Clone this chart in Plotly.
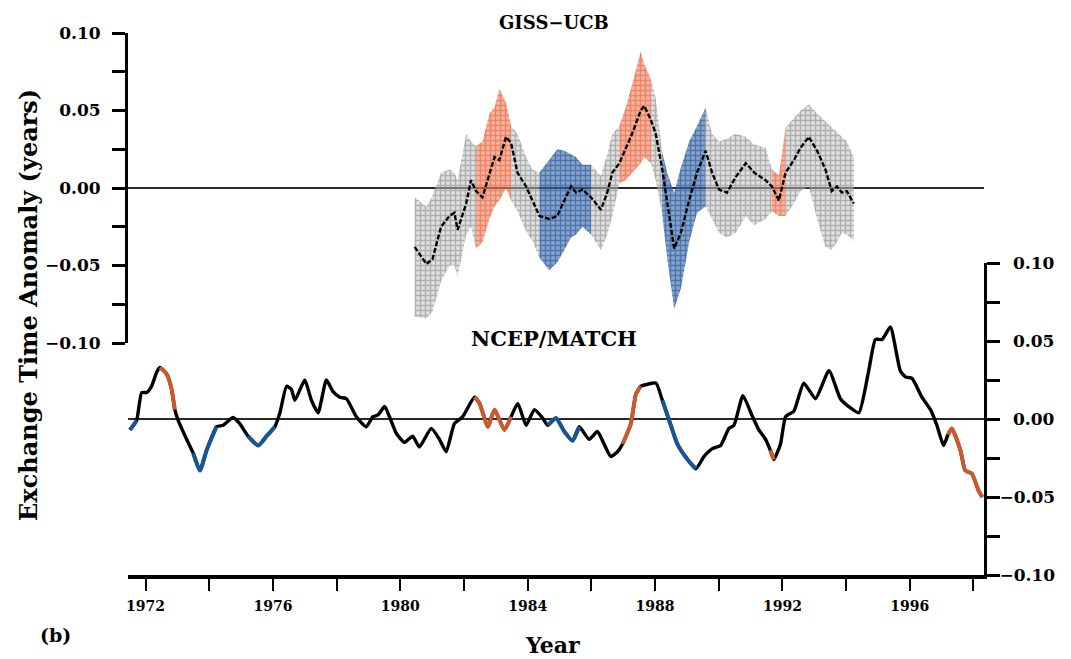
import plotly.graph_objects as go

# ---------------- GISS-UCB (top panel) ----------------
giss_year = [1980.45, 1980.82, 1981.01, 1981.28, 1981.55, 1981.70, 1981.80, 1982.07, 1982.22,
             1982.38, 1982.58, 1982.80, 1982.96, 1983.11, 1983.32, 1983.48, 1983.68, 1983.95,
             1984.15, 1984.37, 1984.68, 1984.93, 1985.15, 1985.36, 1985.52, 1985.72, 1985.99,
             1986.30, 1986.50, 1986.66, 1986.88, 1987.08, 1987.28, 1987.55, 1987.66, 1987.87,
             1988.02, 1988.22, 1988.38, 1988.60, 1988.81, 1989.07, 1989.32, 1989.59, 1989.79,
             1990.01, 1990.26, 1990.53, 1990.85, 1991.11, 1991.47, 1991.67, 1991.89, 1992.10,
             1992.36, 1992.57, 1992.83, 1993.09, 1993.35, 1993.55, 1993.71, 1993.87, 1994.02,
             1994.24]
giss_mean = [-0.038, -0.049, -0.046, -0.025, -0.018, -0.016, -0.027, -0.010, 0.005,
             -0.002, -0.006, 0.010, 0.020, 0.018, 0.033, 0.029, 0.010, 0.001,
             -0.008, -0.018, -0.020, -0.018, -0.008, 0.001, -0.003, -0.001, -0.006,
             -0.014, -0.003, 0.010, 0.016, 0.026, 0.035, 0.050, 0.053, 0.044,
             0.035, 0.013, -0.008, -0.039, -0.029, -0.008, 0.010, 0.024, 0.010,
             -0.001, -0.003, 0.007, 0.016, 0.010, 0.005, 0.001, -0.008, 0.010,
             0.018, 0.026, 0.033, 0.024, 0.012, -0.002, 0.001, -0.003, -0.002,
             -0.010]
giss_upper = [-0.006, -0.012, -0.005, 0.010, 0.012, 0.010, 0.005, 0.035, 0.030,
              0.027, 0.030, 0.048, 0.052, 0.064, 0.055, 0.040, 0.035, 0.020,
              0.012, 0.010, 0.018, 0.025, 0.024, 0.022, 0.020, 0.015, 0.015,
              0.008, 0.022, 0.035, 0.040, 0.052, 0.067, 0.088, 0.080, 0.070,
              0.058, 0.024, 0.010, -0.003, 0.013, 0.030, 0.040, 0.052, 0.035,
              0.030, 0.032, 0.035, 0.033, 0.028, 0.026, 0.012, 0.008, 0.039,
              0.045, 0.050, 0.054, 0.048, 0.043, 0.039, 0.036, 0.033, 0.030,
              0.020]
giss_lower = [-0.083, -0.084, -0.080, -0.060, -0.050, -0.050, -0.057, -0.030, -0.025,
              -0.039, -0.035, -0.020, -0.012, -0.008, 0.000, -0.008, -0.015, -0.028,
              -0.034, -0.045, -0.053, -0.048, -0.040, -0.032, -0.030, -0.025, -0.030,
              -0.040, -0.030, -0.018, 0.003, 0.005, 0.010, 0.016, 0.020, 0.016,
              0.005, -0.016, -0.045, -0.078, -0.065, -0.035, -0.016, -0.012, -0.020,
              -0.029, -0.032, -0.029, -0.018, -0.024, -0.020, -0.015, -0.018, -0.018,
              -0.010, -0.002, 0.001, -0.020, -0.038, -0.040, -0.035, -0.029, -0.030,
              -0.034]
# ENSO phase: 1 = El Nino (orange), -1 = La Nina (blue), 0 = neutral
giss_phase = [0, 0, 0, 0, 0, 0, 0, 0, 0,
              1, 1, 1, 1, 1, 1, 0, 0, 0,
              0, -1, -1, -1, -1, -1, -1, -1, 0,
              0, 0, 0, 1, 1, 1, 1, 1, 0,
              0, -1, -1, -1, -1, -1, -1, 0, 0,
              0, 0, 0, 0, 0, 0, 1, 1, 0,
              0, 0, 0, 0, 0, 0, 0, 0, 0,
              0]

# ---------------- NCEP/MATCH (bottom panel) ----------------
ncep_year = [1971.51, 1971.72, 1971.88, 1972.04, 1972.19, 1972.35, 1972.45, 1972.66, 1972.82,
             1972.92, 1973.03, 1973.29, 1973.50, 1973.71, 1973.92, 1974.23, 1974.44, 1974.75,
             1974.96, 1975.22, 1975.54, 1975.80, 1976.06, 1976.22, 1976.43, 1976.58, 1976.69,
             1977.00, 1977.21, 1977.42, 1977.68, 1977.89, 1978.10, 1978.31, 1978.62, 1978.93,
             1979.14, 1979.30, 1979.51, 1979.66, 1979.87, 1980.13, 1980.39, 1980.60, 1980.97,
             1981.23, 1981.44, 1981.70, 1981.96, 1982.33, 1982.49, 1982.75, 1982.96, 1983.27,
             1983.48, 1983.69, 1983.95, 1984.21, 1984.47, 1984.63, 1984.89, 1985.15, 1985.41,
             1985.62, 1985.93, 1986.19, 1986.40, 1986.61, 1986.82, 1986.98, 1987.24, 1987.40,
             1987.55, 1987.71, 1988.03, 1988.23, 1988.44, 1988.70, 1989.02, 1989.28, 1989.54,
             1989.80, 1990.06, 1990.32, 1990.48, 1990.76, 1991.05, 1991.26, 1991.47, 1991.62,
             1991.73, 1991.94, 1992.10, 1992.36, 1992.67, 1993.04, 1993.46, 1993.82, 1994.08,
             1994.40, 1994.71, 1994.92, 1995.13, 1995.39, 1995.70, 1995.86, 1996.07, 1996.38,
             1996.65, 1996.85, 1997.06, 1997.20, 1997.32, 1997.59, 1997.74, 1997.95, 1998.16,
             1998.28]
ncep_val = [-0.007, -0.001, 0.017, 0.017, 0.021, 0.030, 0.033, 0.029, 0.019,
            0.006, -0.001, -0.013, -0.022, -0.033, -0.020, -0.005, -0.004, 0.001,
            -0.003, -0.011, -0.017, -0.011, -0.005, 0.004, 0.021, 0.019, 0.012,
            0.025, 0.012, 0.004, 0.025, 0.0175, 0.014, 0.013, 0.0015, -0.005,
            0.0015, 0.0026, 0.008, 0.0015, -0.009, -0.015, -0.011, -0.018, -0.006,
            -0.013, -0.021, -0.003, 0.0015, 0.014, 0.010, -0.005, 0.006, -0.007,
            0.0015, 0.010, -0.004, 0.006, 0.0006, -0.004, 0.0006, -0.008, -0.014,
            -0.005, -0.013, -0.008, -0.016, -0.024, -0.021, -0.016, -0.003, 0.016,
            0.021, 0.022, 0.023, 0.012, -0.0006, -0.016, -0.026, -0.032, -0.024,
            -0.019, -0.017, -0.006, -0.004, 0.015, 0.002, -0.007, -0.013, -0.020,
            -0.026, -0.016, 0.0015, 0.005, 0.023, 0.013, 0.031, 0.013, 0.008,
            0.004, 0.031, 0.051, 0.051, 0.059, 0.031, 0.027, 0.026, 0.014,
            0.006, -0.004, -0.017, -0.010, -0.006, -0.020, -0.033, -0.035, -0.046,
            -0.050]
ncep_phase = [-1, -1, 0, 0, 0, 0, 1, 1, 1,
              1, 0, 0, -1, -1, -1, -1, 0, 0,
              0, -1, -1, -1, -1, 0, 0, 0, 0,
              0, 0, 0, 0, 0, 0, 0, 0, 0,
              0, 0, 0, 0, 0, 0, 0, 0, 0,
              0, 0, 0, 0, 1, 1, 1, 1, 1,
              1, 0, 0, 0, 0, -1, -1, -1, -1,
              -1, 0, 0, 0, 0, 0, 1, 1, 1,
              1, 0, 0, -1, -1, -1, -1, -1, 0,
              0, 0, 0, 0, 0, 0, 0, 0, 1,
              1, 0, 0, 0, 0, 0, 0, 0, 0,
              0, 0, 0, 0, 0, 0, 0, 0, 0,
              0, 0, 0, 1, 1, 1, 1, 1, 1,
              1]

x_tick_years = list(range(1972, 1999, 2))
x_tick_text = [str(y) if (y - 1972) % 4 == 0 else "" for y in x_tick_years]
y_tick_vals = [-0.1, -0.075, -0.05, -0.025, 0.0, 0.025, 0.05, 0.075, 0.1]
y_tick_text = ["\u22120.10", "", "\u22120.05", "", "0.00", "", "0.05", "", "0.10"]
# right-hand labels are right-aligned in the original: pad the positive ones
y_tick_text_right = [t if (t == "" or t.startswith("\u2212")) else "\u2007\u200a" + t
                     for t in y_tick_text]

FILL_STYLE = {
    0: dict(fg="rgb(125,125,125)", bg="rgba(195,195,195,0.5)"),
    1: dict(fg="rgb(225,85,45)", bg="rgba(238,130,95,0.6)"),
    -1: dict(fg="rgb(20,70,140)", bg="rgba(55,105,170,0.6)"),
}
ORANGE_BOT = "rgb(200,90,45)"
BLUE_BOT = "rgb(25,85,150)"


def runs(phase):
    out = []
    start = 0
    for i in range(1, len(phase) + 1):
        if i == len(phase) or phase[i] != phase[start]:
            out.append((start, i - 1, phase[start]))
            start = i
    return out


fig = go.Figure()

# Envelope fills, top panel
for s, e, p in runs(giss_phase):
    e2 = min(e + 1, len(giss_year) - 1)
    xs = giss_year[s:e2 + 1]
    up = giss_upper[s:e2 + 1]
    lo = giss_lower[s:e2 + 1]
    st = FILL_STYLE[p]
    fig.add_trace(go.Scatter(
        x=xs + xs[::-1], y=up + lo[::-1], xaxis="x", yaxis="y",
        mode="lines", line=dict(width=0), fill="toself",
        fillpattern=dict(shape="+", fgcolor=st["fg"], bgcolor=st["bg"],
                         size=5, solidity=0.5),
        hoverinfo="skip", showlegend=False))

fig.add_trace(go.Scatter(x=giss_year, y=giss_mean, xaxis="x", yaxis="y", mode="lines",
                         line=dict(color="black", width=2.4, dash="5px,2px"), showlegend=False))

# Bottom panel line
fig.add_trace(go.Scatter(x=ncep_year, y=ncep_val, xaxis="x", yaxis="y2", mode="lines",
                         line=dict(color="black", width=3.4, shape="spline", smoothing=0.5),
                         showlegend=False))
for s, e, p in runs(ncep_phase):
    if p == 0:
        continue
    col = ORANGE_BOT if p == 1 else BLUE_BOT
    fig.add_trace(go.Scatter(x=ncep_year[s:e + 1], y=ncep_val[s:e + 1], xaxis="x", yaxis="y2",
                             mode="lines",
                             line=dict(color=col, width=4, shape="spline", smoothing=0.5),
                             showlegend=False))

FONT = "DejaVu Serif"


def ann(text, x, y, size, angle=0):
    return dict(text=text, x=x, y=y, xref="paper", yref="paper", xanchor="center",
                yanchor="middle", textangle=angle, showarrow=False,
                font=dict(family=FONT, size=size, weight="bold", color="black"))


fig.update_layout(
    width=1071, height=659,
    margin=dict(l=128, r=87, t=33, b=84),
    paper_bgcolor="white", plot_bgcolor="rgba(0,0,0,0)",
    font=dict(family=FONT, size=16, color="black", weight="bold"),
    xaxis=dict(range=[1971.45, 1998.33], domain=[0, 1], anchor="y2", automargin=False,
               showline=True, linecolor="black", linewidth=4, mirror=False,
               ticks="outside", ticklen=12, tickwidth=2, tickcolor="black",
               tickvals=x_tick_years, ticktext=x_tick_text,
               tickfont=dict(family=FONT, size=14, weight="bold"),
               ticklabelstandoff=3,
               showgrid=False, zeroline=False),
    yaxis=dict(range=[-0.1, 0.1], domain=[0.428, 1.0], anchor="x", side="left", automargin=False,
               showline=True, linecolor="black", linewidth=3,
               ticks="outside", ticklen=13, tickwidth=2.5, tickcolor="black",
               tickvals=y_tick_vals, ticktext=y_tick_text,
               tickfont=dict(family=FONT, size=17, weight="bold"),
               ticklabelstandoff=8,
               showgrid=False, zeroline=True, zerolinecolor="rgb(40,40,40)", zerolinewidth=1.5),
    yaxis2=dict(range=[-0.1, 0.1], domain=[0.0, 0.5756], anchor="x", side="right", automargin=False,
                showline=True, linecolor="black", linewidth=3,
                ticks="outside", ticklen=13, tickwidth=2.5, tickcolor="black",
                tickvals=y_tick_vals, ticktext=y_tick_text_right,
                tickfont=dict(family=FONT, size=17, weight="bold"),
                ticklabelstandoff=-4,
                showgrid=False, zeroline=True, zerolinecolor="rgb(40,40,40)", zerolinewidth=1.5),
    annotations=[
        ann("GISS\u2212UCB", 0.498, 1.02, 18),
        ann("NCEP/MATCH", 0.498, 0.437, 21),
        ann("Exchange Time Anomaly (years)", -0.117, 0.498, 24, -90),
        ann("Year", 0.496, -0.129, 22),
        ann("(b)", -0.085, -0.111, 19),
    ],
)

fig.write_html("out.html", config={"displayModeBar": False},
               post_script="document.body.style.margin='0px';")
